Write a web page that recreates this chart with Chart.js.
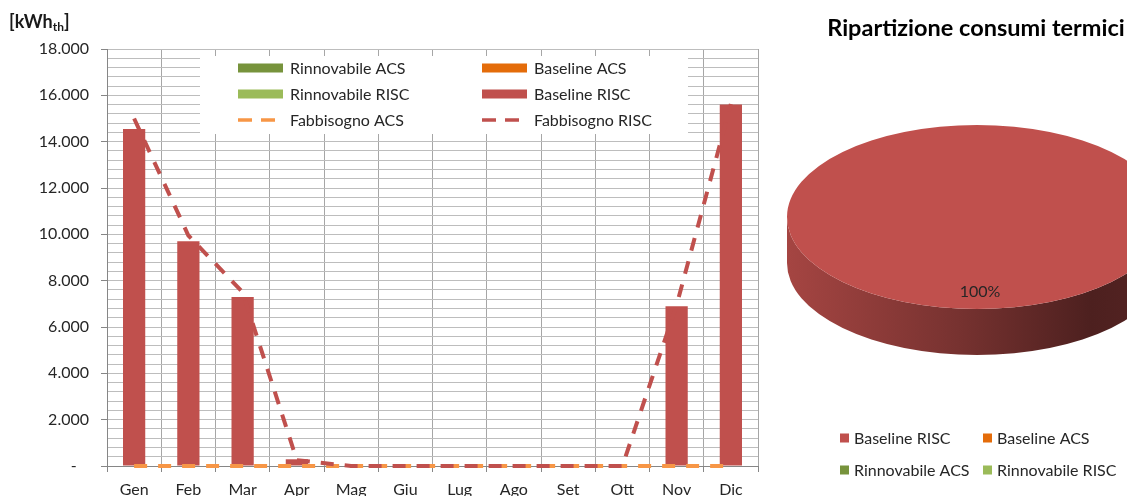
<!DOCTYPE html>
<html><head><meta charset="utf-8">
<script src="https://cdn.jsdelivr.net/npm/chart.js@4.4.1/dist/chart.umd.min.js"></script>
<style>
html,body{margin:0;padding:0;background:#fff;overflow:hidden;width:1127px;height:496px;}
#barWrap{position:absolute;left:0;top:0;width:775px;height:496px;}
#pieWrap{position:absolute;left:775px;top:0;width:440px;height:496px;}
</style></head><body>
<div id="barWrap"><canvas id="bar"></canvas></div>
<div id="pieWrap"><canvas id="pie"></canvas></div>
<script>
// ---- DATA ----
const months = ['Gen','Feb','Mar','Apr','Mag','Giu','Lug','Ago','Set','Ott','Nov','Dic'];
const rinnovabileACS  = [0,0,0,0,0,0,0,0,0,0,0,0];
const baselineACS     = [0,0,0,0,0,0,0,0,0,0,0,0];
const rinnovabileRISC = [0,0,0,0,0,0,0,0,0,0,0,0];
const baselineRISC    = [14550,9700,7300,290,0,0,0,0,0,0,6900,15600];
const fabbisognoACS   = [0,0,0,0,0,0,0,0,0,0,0,0];
const fabbisognoRISC  = [15000,9950,7500,250,0,0,0,0,0,0,6950,15630];
const yMin = 0, yMax = 18000, yMinorStep = 400, yMajorStep = 2000;
const yUnit = ['[kWh', 'th', ']'];
const pieTitle = 'Ripartizione consumi termici';
const pieLabels = ['Baseline RISC','Baseline ACS','Rinnovabile ACS','Rinnovabile RISC'];

// ---- STYLE ----
const C = {rACS:'#77933c', bACS:'#e46c0a', rRISC:'#9bbb59', bRISC:'#c0504d', fACS:'#f79646', fRISC:'#c0504d'};
const FONT = 'Lato';
const TXT = '#262626';
Chart.defaults.font.family = FONT;
Chart.defaults.font.size = 16;
Chart.defaults.color = TXT;

const sum = a => a.reduce((s,v)=>s+v,0);
const fmt = v => v === 0 ? '-   ' : String(Math.round(v)).replace(/\B(?=(\d{3})+(?!\d))/g, '.');

// ---- BAR CHART ----
const barLegend = {
  id: 'barLegend',
  afterDraw(chart, args, o) {
    const ctx = chart.ctx;
    ctx.save();
    ctx.fillStyle = '#fff';
    ctx.fillRect(o.box.x, o.box.y, o.box.w, o.box.h);
    ctx.font = '16px ' + FONT;
    ctx.textBaseline = 'middle';
    ctx.textAlign = 'left';
    chart.data.datasets.forEach((ds, i) => {
      const col = i % 2, row = Math.floor(i / 2);
      const x = o.colX[col], y = o.rowY[row];
      if (ds.type === 'line') {
        ctx.strokeStyle = ds.borderColor;
        ctx.lineWidth = 3.5;
        ctx.setLineDash([14, 9]);
        ctx.beginPath(); ctx.moveTo(x, y); ctx.lineTo(x + 39, y); ctx.stroke();
        ctx.setLineDash([]);
      } else {
        ctx.fillStyle = ds.backgroundColor;
        ctx.fillRect(x, y - 4.5, 45, 9);
      }
      ctx.fillStyle = TXT;
      ctx.fillText(ds.label, x + 52, y + 1);
    });
    // y unit label
    ctx.fillStyle = '#1a1a1a';
    ctx.font = 'bold 18px ' + FONT;
    let ux = 9;
    ctx.fillText(yUnit[0], ux, 22); ux += ctx.measureText(yUnit[0]).width;
    ctx.font = 'bold 12px ' + FONT;
    ctx.fillText(yUnit[1], ux, 27); ux += ctx.measureText(yUnit[1]).width;
    ctx.font = 'bold 18px ' + FONT;
    ctx.fillText(yUnit[2], ux, 22);
    ctx.restore();
  }
};

new Chart(document.getElementById('bar'), {
  data: {
    labels: months,
    datasets: [
      {type:'bar', label:'Rinnovabile ACS', data: rinnovabileACS, backgroundColor: C.rACS, stack:'bars', order:3},
      {type:'bar', label:'Baseline ACS', data: baselineACS, backgroundColor: C.bACS, stack:'bars', order:3},
      {type:'bar', label:'Rinnovabile RISC', data: rinnovabileRISC, backgroundColor: C.rRISC, stack:'bars', order:3},
      {type:'bar', label:'Baseline RISC', data: baselineRISC, backgroundColor: C.bRISC, stack:'bars', order:3},
      {type:'line', label:'Fabbisogno ACS', data: fabbisognoACS, borderColor: C.fACS, backgroundColor: C.fACS, stack:'l1', order:2,
        borderWidth:4, borderDash:[13,11], pointRadius:0, tension:0, fill:false, clip: 6},
      {type:'line', label:'Fabbisogno RISC', data: fabbisognoRISC, borderColor: C.fRISC, backgroundColor: C.fRISC, stack:'l2', order:1,
        borderWidth:4, borderDash:[13,11], pointRadius:0, tension:0, fill:false, clip: 6}
    ]
  },
  options: {
    responsive: true, maintainAspectRatio: false, animation: false, events: [],
    layout: {padding: {top: 49, right: 17, left: 0, bottom: 0}},
    datasets: {bar: {barPercentage: 0.41, categoryPercentage: 1, borderWidth: 0}},
    plugins: {
      legend: {display: false}, tooltip: {enabled: false},
      barLegend: {box: {x: 200, y: 56, w: 488, h: 78}, colX: [238, 482], rowY: [68, 94, 120]}
    },
    scales: {
      x: {
        stacked: true, offset: true,
        grid: {offset: true, color: '#a6a6a6', lineWidth: 1, tickLength: 6, tickColor: '#868686'},
        border: {color: '#868686', width: 1},
        ticks: {padding: 8, maxRotation: 0, autoSkip: false, color: TXT, font: {size: 16}},
        afterFit(s) { s.height = 30; }
      },
      y: {
        stacked: true, min: yMin, max: yMax,
        grid: {color: '#bdbdbd', lineWidth: 1, tickLength: 6,
               tickColor: c => (c.tick && Math.round(c.tick.value) % yMajorStep === 0) ? '#868686' : 'rgba(0,0,0,0)'},
        border: {color: '#868686', width: 1},
        ticks: {stepSize: yMinorStep, autoSkip: false, padding: 12, color: TXT, font: {size: 16},
                callback: v => (Math.round(v) % yMajorStep === 0) ? fmt(v) : ''},
        afterFit(s) { s.width = 107; }
      }
    }
  },
  plugins: [barLegend]
});

// ---- PIE CHART ----
const pieValues = [sum(baselineRISC), sum(baselineACS), sum(rinnovabileACS), sum(rinnovabileRISC)];
const pieColors = [C.bRISC, C.bACS, C.rACS, C.rRISC];

function shade(hex, f) {
  const n = parseInt(hex.slice(1), 16);
  const r = Math.round(((n >> 16) & 255) * f), g = Math.round(((n >> 8) & 255) * f), b = Math.round((n & 255) * f);
  return `rgb(${r},${g},${b})`;
}

const pie3D = {
  id: 'pie3D',
  beforeDatasetsDraw(chart, args, o) {
    const ctx = chart.ctx;
    const meta = chart.getDatasetMeta(0);
    const a0 = meta.data[0];
    const cx = a0.x, cy = a0.y, r = a0.outerRadius, ry = r * o.tilt, d = o.depth;
    meta.data.forEach((arc, i) => {
      if (!(arc.endAngle > arc.startAngle)) return;
      const col = chart.data.datasets[0].backgroundColor[i];
      [-2 * Math.PI, 0, 2 * Math.PI].forEach(off => {
        const lo = Math.max(arc.startAngle, off), hi = Math.min(arc.endAngle, off + Math.PI);
        if (hi <= lo) return;
        const g = ctx.createLinearGradient(cx - r, 0, cx + r, 0);
        g.addColorStop(0, shade(col, 0.86));
        g.addColorStop(0.45, shade(col, 0.62));
        g.addColorStop(0.8, shade(col, 0.40));
        g.addColorStop(1, shade(col, 0.45));
        ctx.save();
        ctx.beginPath();
        ctx.ellipse(cx, cy, r, ry, 0, lo, hi, false);
        ctx.ellipse(cx, cy + d, r, ry, 0, hi, lo, true);
        ctx.closePath();
        ctx.fillStyle = g;
        ctx.fill();
        ctx.restore();
      });
    });
    ctx.save();
    ctx.translate(cx, cy); ctx.scale(1, o.tilt); ctx.translate(-cx, -cy);
  },
  afterDatasetsDraw(chart, args, o) {
    const ctx = chart.ctx;
    ctx.restore();
    const meta = chart.getDatasetMeta(0);
    const vals = chart.data.datasets[0].data, tot = sum(vals);
    ctx.save();
    ctx.font = '16px ' + FONT; ctx.fillStyle = TXT; ctx.textAlign = 'center'; ctx.textBaseline = 'middle';
    meta.data.forEach((arc, i) => {
      if (!vals[i]) return;
      const mid = (arc.startAngle + arc.endAngle) / 2;
      const x = arc.x + arc.outerRadius * 0.78 * Math.cos(mid) + 3;
      const y = arc.y + arc.outerRadius * o.tilt * 0.8 * Math.sin(mid) + 1;
      ctx.fillText(Math.round(vals[i] / tot * 100) + '%', x, y);
    });
    ctx.restore();
  },
  afterDraw(chart, args, o) {
    const ctx = chart.ctx;
    ctx.save();
    ctx.fillStyle = '#000';
    ctx.font = 'bold 23.5px ' + FONT; ctx.textAlign = 'center'; ctx.textBaseline = 'middle';
    ctx.fillText(pieTitle, o.titleX, o.titleY);
    ctx.font = '16px ' + FONT; ctx.textAlign = 'left';
    chart.data.labels.forEach((lab, i) => {
      const x = o.legX[i % 2], y = o.legY[Math.floor(i / 2)];
      ctx.fillStyle = chart.data.datasets[0].backgroundColor[i];
      ctx.fillRect(x, y - 4.5, 9, 9);
      ctx.fillStyle = TXT;
      ctx.fillText(lab, x + 14, y + 1);
    });
    ctx.restore();
  }
};

new Chart(document.getElementById('pie'), {
  type: 'pie',
  data: {labels: pieLabels, datasets: [{data: pieValues, backgroundColor: pieColors, borderWidth: 0}]},
  options: {
    responsive: true, maintainAspectRatio: false, animation: false, events: [],
    layout: {padding: {left: 12, right: 48, top: 27, bottom: 89}},
    plugins: {
      legend: {display: false}, tooltip: {enabled: false},
      pie3D: {tilt: 0.484, depth: 46, titleX: 201, titleY: 28, legX: [65, 208], legY: [438, 470]}
    }
  },
  plugins: [pie3D]
});
</script>
</body></html>
